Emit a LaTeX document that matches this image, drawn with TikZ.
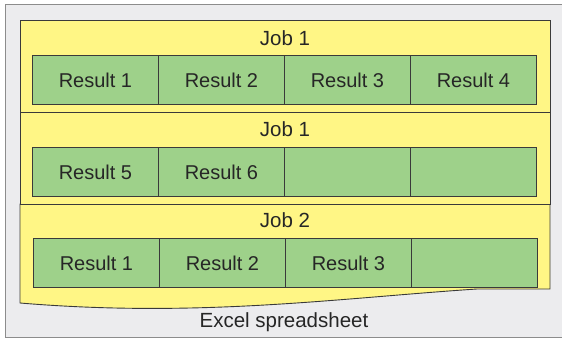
\documentclass[tikz,border=0pt]{standalone}
\usepackage{fontspec}
\setmainfont{Liberation Sans}
\definecolor{bgGray}{HTML}{ECECEE}
\definecolor{bgLine}{HTML}{8C8C8C}
\definecolor{sheetYellow}{HTML}{FFF685}
\definecolor{cellGreen}{HTML}{9ED18A}
\definecolor{darkLine}{HTML}{3A3A3A}
\tikzset{
  cellbox/.style={draw=darkLine, line width=0.9pt, fill=cellGreen, minimum width=126pt, minimum height=49pt, inner sep=0pt, anchor=north west, font=\fontsize{20}{24}\selectfont, text=black!85},
  jobrow/.style={draw=darkLine, line width=0.9pt, fill=sheetYellow},
  lbl/.style={font=\fontsize{20.5}{24}\selectfont, text=black!85, inner sep=0pt}
}
\begin{document}
\begin{tikzpicture}[x=1pt,y=-1pt]
\useasboundingbox (0,0) rectangle (562,338);
\clip (0,0) rectangle (562,338);
% background
\draw[fill=bgGray, draw=bgLine, line width=1pt] (5,4) rectangle (570,337);
% sheet with wavy bottom
\path[jobrow] (20,204) -- (550,204) -- (550,289) -- (477,289)
  .. controls (340,298) and (200,318) .. (20,303) -- cycle;
\path[jobrow] (20,112) rectangle (550,204);
\path[jobrow] (20,20) rectangle (550,112);
% row 1
\node[lbl] (job1a) at (285,38) {Job 1};
\node[cellbox] (r1c1) at (32,55) {Result 1};
\node[cellbox] (r1c2) at (158,55) {Result 2};
\node[cellbox] (r1c3) at (284,55) {Result 3};
\node[cellbox] (r1c4) at (410,55) {Result 4};
% row 2
\node[lbl] (job1b) at (285,129) {Job 1};
\node[cellbox] (r2c1) at (32,147) {Result 5};
\node[cellbox] (r2c2) at (158,147) {Result 6};
\node[cellbox] (r2c3) at (284,147) {};
\node[cellbox] (r2c4) at (410,147) {};
% row 3
\node[lbl] (job2) at (285,220) {Job 2};
\node[cellbox] (r3c1) at (33,238) {Result 1};
\node[cellbox] (r3c2) at (159,238) {Result 2};
\node[cellbox] (r3c3) at (285,238) {Result 3};
\node[cellbox] (r3c4) at (411,238) {};
% caption
\node[lbl] (caption) at (284,322) {Excel spreadsheet};
\end{tikzpicture}
\end{document}
